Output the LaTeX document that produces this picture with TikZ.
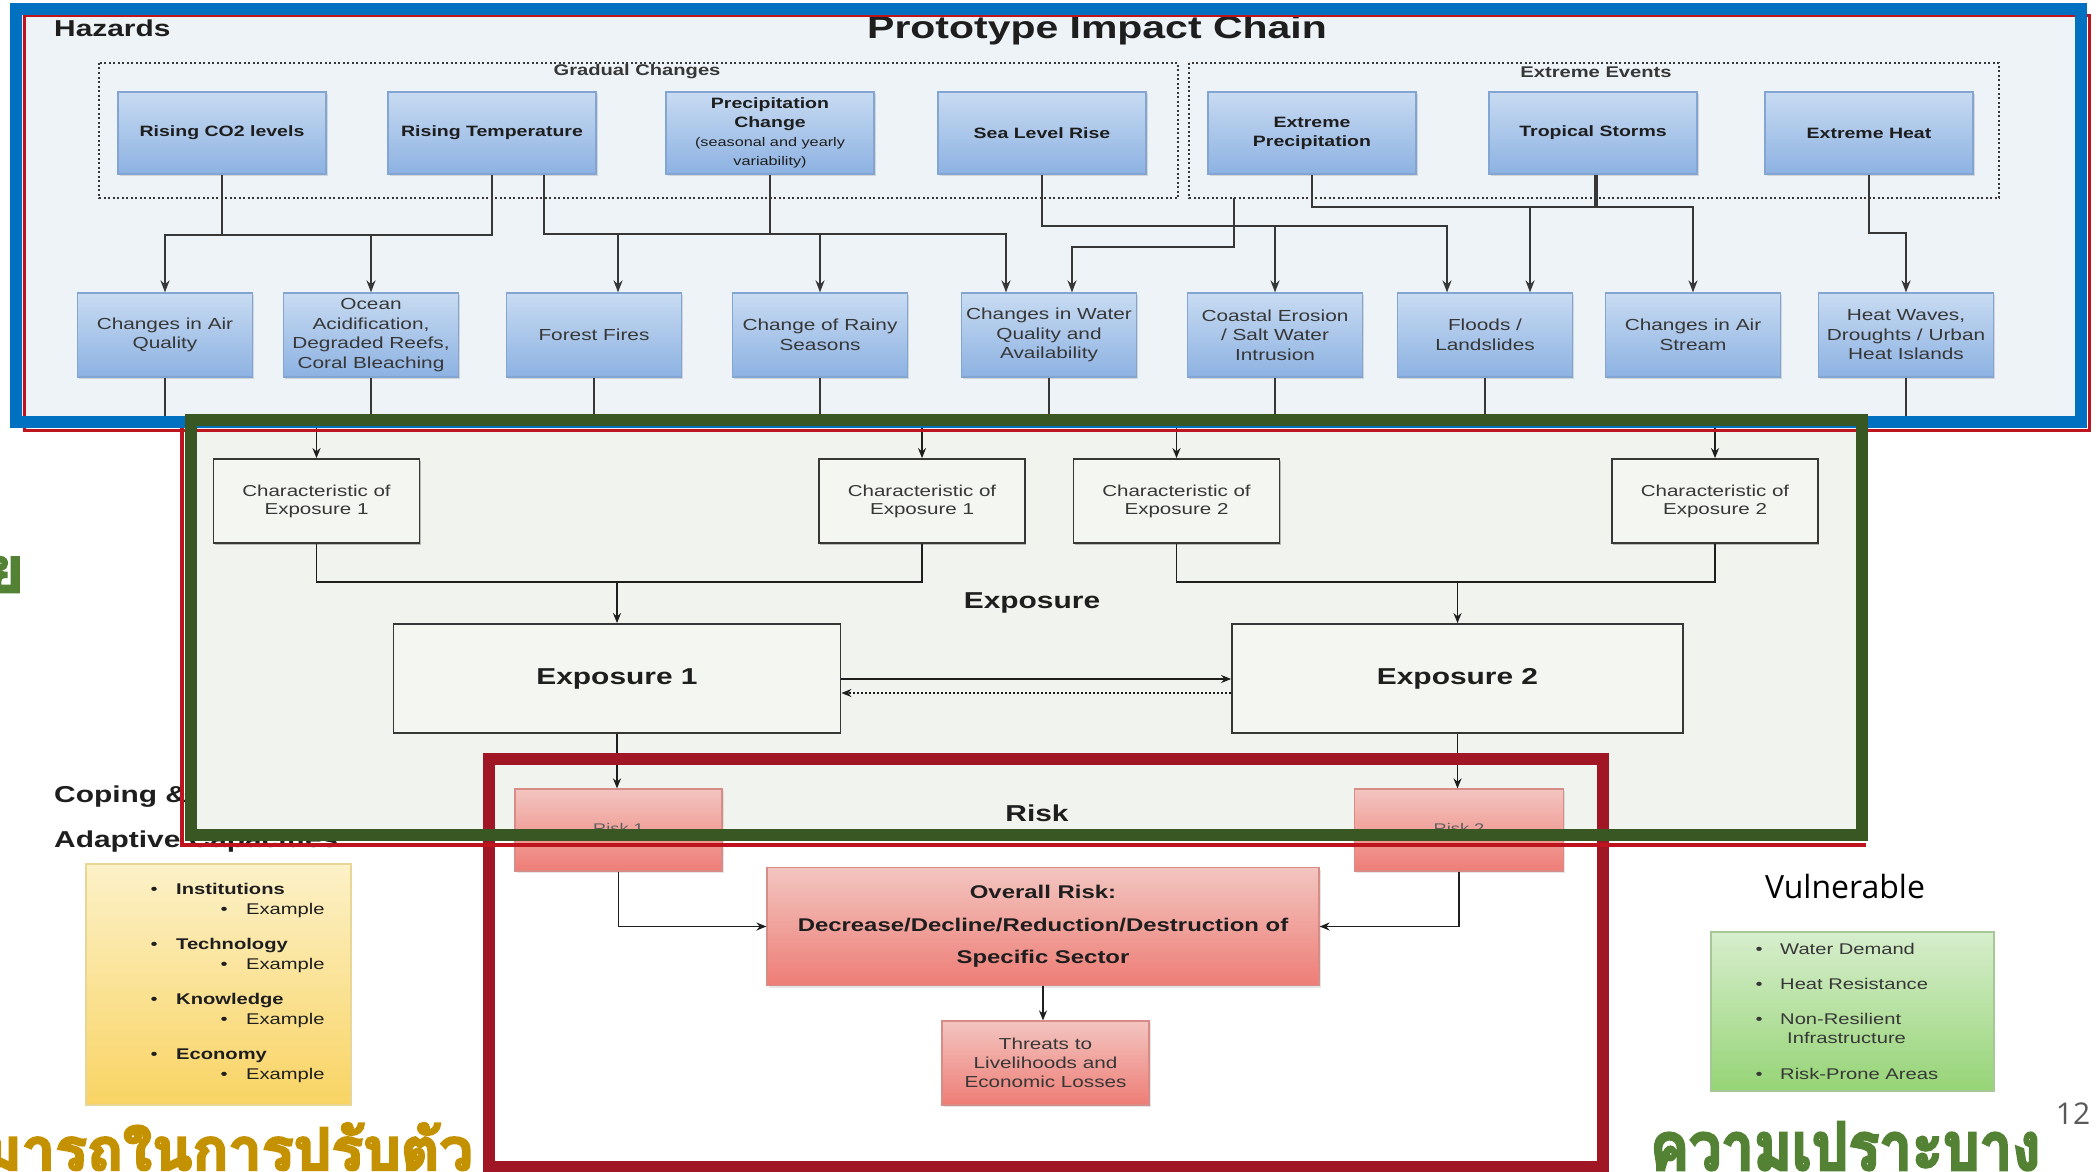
\documentclass[tikz,border=0pt]{standalone}
\usepackage{fontspec}
\usepackage{graphicx}
\setmainfont{Liberation Sans}
\newfontfamily\df[FakeStretch=1.3]{Liberation Sans}
\newfontfamily\thaifont[Script=Thai,FakeBold=4]{Loma}
\newfontfamily\vfont{Open Sans}
\usetikzlibrary{arrows.meta,shadows}

\definecolor{frameblue}{RGB}{0,112,192}
\definecolor{framegreen}{RGB}{56,87,35}
\definecolor{framered}{RGB}{160,22,36}
\definecolor{thinred}{RGB}{190,20,30}
\definecolor{bluebg}{RGB}{238,243,248}
\definecolor{greenbg}{RGB}{240,243,238}
\definecolor{cfill}{RGB}{243,246,241}
\definecolor{boxtop}{RGB}{200,219,242}
\definecolor{boxbot}{RGB}{141,178,226}
\definecolor{boxedge}{RGB}{130,165,210}
\definecolor{pinktop}{RGB}{243,197,192}
\definecolor{pinkbot}{RGB}{238,125,118}
\definecolor{pinkedge}{RGB}{215,140,135}
\definecolor{yeltop}{RGB}{252,241,200}
\definecolor{yelbot}{RGB}{249,212,100}
\definecolor{yeledge}{RGB}{232,214,150}
\definecolor{grntop}{RGB}{215,238,205}
\definecolor{grnbot}{RGB}{150,212,118}
\definecolor{grnedge}{RGB}{165,200,150}
\definecolor{ink}{RGB}{30,30,30}
\definecolor{ink2}{RGB}{55,55,55}
\definecolor{thaigold}{RGB}{196,146,0}
\definecolor{thaigreen}{RGB}{84,130,53}

\tikzset{
  hz/.style={draw=boxedge, line width=1.2pt, top color=boxtop, bottom color=boxbot,
    minimum width=208pt, minimum height=82pt, inner sep=0pt, align=center, text=ink,
    font=\df\bfseries\fontsize{15}{19}\selectfont,
    drop shadow={shadow xshift=1.5pt, shadow yshift=-2pt, opacity=0.25}},
  imp/.style={hz, minimum width=175pt, minimum height=84pt,
    font=\df\fontsize{16}{19.5}\selectfont, text=ink2},
  cbox/.style={draw=ink2, line width=1.8pt, fill=cfill, minimum width=206pt,
    minimum height=84pt, inner sep=0pt, align=center, text=ink2,
    font=\df\fontsize{15.8}{18}\selectfont,
    drop shadow={shadow xshift=1pt, shadow yshift=-2pt, opacity=0.5}},
  ebox/.style={draw=ink2, line width=1.8pt, fill=cfill, minimum height=109pt,
    inner sep=0pt, align=center, text=ink, font=\df\bfseries\fontsize{23}{26}\selectfont},
  pbox/.style={draw=pinkedge, line width=1.2pt, top color=pinktop, bottom color=pinkbot,
    inner sep=0pt, align=center, text=ink,
    drop shadow={shadow xshift=1.5pt, shadow yshift=-2pt, opacity=0.2}},
  conn/.style={draw=ink2, line width=2.4pt},
  arr/.style={conn, -{Stealth[length=12pt,width=9pt]}},
  gline/.style={draw=ink, line width=1.8pt},
  garr/.style={gline, -{Stealth[length=10pt,width=8pt]}},
  dotbox/.style={draw=ink2, line width=1.8pt, dash pattern=on 2pt off 2.5pt},
  lbl/.style={inner sep=0pt, text=ink, font=\df\bfseries\fontsize{23}{26}\selectfont},
}

\begin{document}
\begin{tikzpicture}[x=1pt,y=-1pt]
\useasboundingbox (0,0) rectangle (2098,1172);
\fill[white] (0,0) rectangle (2098,1172);

% background fills
\fill[bluebg] (16,9) rectangle (2081,422);

% Coping text (partly hidden by green frame)
\node[anchor=base west, inner sep=0pt, text=ink, font=\df\bfseries\fontsize{23}{26}\selectfont] (cop1) at (54,802) {Coping \&};
\node[anchor=base west, inner sep=0pt, text=ink, font=\df\bfseries\fontsize{23}{26}\selectfont] (cop2) at (54,847) {Adaptive Capacities};

\fill[greenbg] (191,420) rectangle (1862,835);

% ---------- Hazards area ----------
\node[anchor=base, inner sep=0pt, text=ink, font=\df\bfseries\fontsize{31.5}{34}\selectfont] (title) at (1097,39) {Prototype Impact Chain};
\node[anchor=base west, inner sep=0pt, text=ink, font=\df\bfseries\fontsize{23}{26}\selectfont] (haz) at (54,37) {Hazards};

\draw[dotbox] (99,63) rectangle (1178,198);
\draw[dotbox] (1189,63) rectangle (1999,198);
\node[inner sep=0pt, text=ink2, font=\df\bfseries\fontsize{15.5}{18}\selectfont] (grad) at (637,72) {Gradual Changes};
\node[inner sep=0pt, text=ink2, font=\df\bfseries\fontsize{15.5}{18}\selectfont] (xev) at (1596,72) {Extreme Events};
\coordinate (xevb) at (1234,198);

\node[hz] (co2) at (222,133) {Rising CO2 levels};
\node[hz] (temp) at (492,133) {Rising Temperature};
\node[hz] (prec) at (770,133) {Precipitation\\Change\\{\mdseries\fontsize{12.5}{17}\selectfont (seasonal and yearly}\\{\mdseries\fontsize{12.5}{17}\selectfont variability)}};
\node[hz] (sea) at (1042,133) {Sea Level Rise};
\node[hz] (xprec) at (1312,133) {Extreme\\Precipitation};
\node[hz] (storm) at (1593,133) {Tropical Storms};
\node[hz] (heat) at (1869,133) {Extreme Heat};

\node[imp] (air) at (165,335) {Changes in Air\\Quality};
\node[imp] (ocean) at (371,335) {Ocean\\Acidification,\\Degraded Reefs,\\Coral Bleaching};
\node[imp] (fire) at (594,335) {Forest Fires};
\node[imp] (rain) at (820,335) {Change of Rainy\\Seasons};
\node[imp] (water) at (1049,335) {Changes in Water\\Quality and\\Availability};
\node[imp] (coast) at (1275,335) {Coastal Erosion\\/ Salt Water\\Intrusion};
\node[imp] (flood) at (1485,335) {Floods /\\Landslides};
\node[imp] (stream) at (1693,335) {Changes in Air\\Stream};
\node[imp] (hw) at (1906,335) {Heat Waves,\\Droughts / Urban\\Heat Islands};

% connectors hazards -> impacts
\draw[conn] (co2.south) -- (co2.south |- 0,235);
\draw[arr] (temp.south) |- (air.north |- 0,235) -- (air.north);
\draw[arr] (ocean.north |- 0,235) -- (ocean.north);

\coordinate (tempR) at ([xshift=52pt]temp.south);
\draw[arr] (tempR) |- (1006,234) -- (water.north -| 1006,0);
\draw[conn] (prec.south) -- (prec.south |- 0,234);
\draw[arr] (618,234) -- (fire.north -| 618,0);
\draw[arr] (rain.north |- 0,234) -- (rain.north);

\draw[arr] (sea.south) |- (1447,226) -- (flood.north -| 1447,0);
\draw[arr] (coast.north |- 0,226) -- (coast.north);

\draw[arr] (xevb) |- (1072,247) -- (water.north -| 1072,0);

\draw[arr] (xprec.south) |- (stream.north |- 0,207) -- (stream.north);
\draw[arr] (1530,207) -- (flood.north -| 1530,0);
\draw[conn, line width=4pt] (storm.south -| 1596,0) -- (1596,207);

\draw[arr] (heat.south) |- (hw.north |- 0,233) -- (hw.north);

\foreach \n in {air,ocean,fire,rain,water,coast,flood,hw}
  \draw[conn, line width=1.6pt] (\n.south) -- (\n.south |- 0,420);

% ---------- Exposure area ----------
\node[cbox] (c1a) at (316.5,501) {Characteristic of\\Exposure 1};
\node[cbox] (c1b) at (922,501) {Characteristic of\\Exposure 1};
\node[cbox] (c2a) at (1176.5,501) {Characteristic of\\Exposure 2};
\node[cbox] (c2b) at (1715,501) {Characteristic of\\Exposure 2};
\foreach \n in {c1a,c1b,c2a,c2b}
  \draw[garr] (\n.north |- 0,428) -- (\n.north);

\node[ebox, minimum width=447pt] (exp1) at (617,678.5) {Exposure 1};
\node[ebox, minimum width=451pt] (exp2) at (1457.5,678.5) {Exposure 2};

\draw[gline] (c1a.south) |- (c1b.south |- 0,582) -- (c1b.south);
\draw[garr] (exp1.north |- 0,582) -- (exp1.north);
\draw[gline] (c2a.south) |- (c2b.south |- 0,582) -- (c2b.south);
\draw[garr] (exp2.north |- 0,582) -- (exp2.north);

\node[lbl] (explbl) at (1032,603) {Exposure};

\draw[garr] (exp1.east |- 0,679) -- (exp2.west |- 0,679);
\draw[garr, line width=1.5pt, dash pattern=on 2pt off 2pt] (exp2.west |- 0,693) -- (exp1.east |- 0,693);

\node[pbox, minimum width=207pt, minimum height=82pt, text=ink2!80, font=\df\fontsize{14}{16}\selectfont] (risk1) at (618.5,830) {\raisebox{4pt}{Risk 1}};
\node[pbox, minimum width=209pt, minimum height=82pt, text=ink2!80, font=\df\fontsize{14}{16}\selectfont] (risk2) at (1459,830) {\raisebox{4pt}{Risk 2}};
\draw[garr] (exp1.south) -- (exp1.south |- risk1.north);
\draw[garr] (exp2.south) -- (exp2.south |- risk2.north);
\node[lbl] (risklbl) at (1037,813) {Risk};

% ---------- frames ----------
\draw[framered, line width=12pt] (489,759) rectangle (1603,1167);
\draw[thinred, line width=3pt] (24,16) rectangle (2089,430);
\draw[frameblue, line width=12pt] (16,9) rectangle (2081,422);
\draw[thinred, line width=4pt] (182,428) -- (182,845) -- (1866,845);
\draw[framegreen, line width=12pt] (191,420) rectangle (1862,835);

% ---------- Risk area ----------
\node[pbox, minimum width=552pt, minimum height=118pt, font=\df\bfseries\fontsize{18.4}{32.5}\selectfont] (overall) at (1043,926.5) {Overall Risk:\\Decrease/Decline/Reduction/Destruction of\\Specific Sector};
\node[pbox, minimum width=207pt, minimum height=84pt, text=ink2, font=\df\fontsize{15.9}{18.7}\selectfont] (threats) at (1045.5,1063) {Threats to\\Livelihoods and\\Economic Losses};
\draw[garr] (risk1.south) |- (overall.west);
\draw[garr] (risk2.south) |- (overall.east);
\draw[garr] (overall.south) -- (overall.south |- threats.north);

% ---------- side boxes ----------
\node[draw=yeledge, line width=1.2pt, top color=yeltop, bottom color=yelbot, minimum width=265pt, minimum height=241pt, inner sep=0pt] (ybox) at (218.5,984.5) {};
\node[anchor=base west, inner sep=0pt, text=ink, font=\df\fontsize{15.5}{20}\selectfont] (ylist) at (150.5,894) {\begin{tabular}[t]{@{}l@{}}
\makebox[25.5pt][l]{\textbullet}\textbf{Institutions}\\
\hspace{70pt}\makebox[25.5pt][l]{\textbullet}Example\\[15pt]
\makebox[25.5pt][l]{\textbullet}\textbf{Technology}\\
\hspace{70pt}\makebox[25.5pt][l]{\textbullet}Example\\[15pt]
\makebox[25.5pt][l]{\textbullet}\textbf{Knowledge}\\
\hspace{70pt}\makebox[25.5pt][l]{\textbullet}Example\\[15pt]
\makebox[25.5pt][l]{\textbullet}\textbf{Economy}\\
\hspace{70pt}\makebox[25.5pt][l]{\textbullet}Example
\end{tabular}};

\node[anchor=base, inner sep=0pt, text=black, font=\vfont\fontsize{32}{36}\selectfont] (vul) at (1845,898) {Vulnerable};
\node[draw=grnedge, line width=1.2pt, top color=grntop, bottom color=grnbot, minimum width=283pt, minimum height=159pt, inner sep=0pt] (gbox) at (1852.5,1011.5) {};
\node[anchor=base west, inner sep=0pt, text=ink2, font=\df\fontsize{15.5}{19}\selectfont] (glist) at (1755.5,954) {\begin{tabular}[t]{@{}l@{}}
\makebox[24.5pt][l]{\textbullet}Water Demand\\[16pt]
\makebox[24.5pt][l]{\textbullet}Heat Resistance\\[16pt]
\makebox[24.5pt][l]{\textbullet}Non-Resilient\\
\hspace{31.5pt}Infrastructure\\[17pt]
\makebox[24.5pt][l]{\textbullet}Risk-Prone Areas
\end{tabular}};

% ---------- Thai captions and page number ----------
\node[anchor=base east, inner sep=0pt, text=thaigold] (capth) at (473,1170) {\resizebox{490pt}{47pt}{\thaifont\bfseries มารถในการปรับตัว}};
\node[anchor=base west, inner sep=0pt, text=thaigreen] (vulth) at (1650,1170) {\resizebox{390pt}{48pt}{\thaifont\bfseries ความเปราะบาง}};
\node[anchor=base east, inner sep=0pt, text=thaigreen] (yth) at (24,592) {\resizebox{!}{35pt}{\thaifont\bfseries ย}};
\node[anchor=base, inner sep=0pt, text=black!65, font=\vfont\fontsize{30}{30}\selectfont] (pg) at (2073,1124) {12};
\end{tikzpicture}
\end{document}
